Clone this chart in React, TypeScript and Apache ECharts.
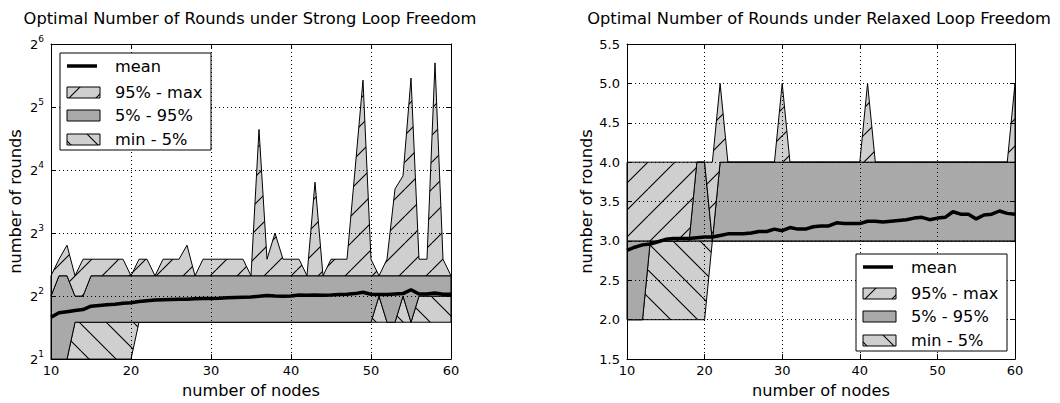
import React, { useEffect, useRef } from "react";
import * as echarts from "echarts";

const nodes = [10, 11, 12, 13, 14, 15, 16, 17, 18, 19, 20, 21, 22, 23, 24, 25, 26, 27, 28, 29, 30, 31, 32, 33, 34, 35, 36, 37, 38, 39, 40, 41, 42, 43, 44, 45, 46, 47, 48, 49, 50, 51, 52, 53, 54, 55, 56, 57, 58, 59, 60];

// Strong loop freedom
const strongMin = [2, 2, 2, 2, 2, 2, 2, 2, 2, 2, 2, 3, 3, 3, 3, 3, 3, 3, 3, 3, 3, 3, 3, 3, 3, 3, 3, 3, 3, 3, 3, 3, 3, 3, 3, 3, 3, 3, 3, 3, 3, 3, 3, 3, 3, 3, 3, 3, 3, 3, 3];
const strongP5 = [2, 2, 2, 3, 3, 3, 3, 3, 3, 3, 3, 3, 3, 3, 3, 3, 3, 3, 3, 3, 3, 3, 3, 3, 3, 3, 3, 3, 3, 3, 3, 3, 3, 3, 3, 3, 3, 3, 3, 3, 3, 4, 3, 3, 4, 3, 4, 4, 4, 4, 4];
const strongP95 = [4, 5, 5, 4, 4, 5, 5, 5, 5, 5, 5, 5, 5, 5, 5, 5, 5, 5, 5, 5, 5, 5, 5, 5, 5, 5, 5, 5, 5, 5, 5, 5, 5, 5, 5, 5, 5, 5, 5, 5, 5, 5, 5, 5, 5, 5, 5, 5, 5, 5, 5];
const strongMax = [5, 6, 7, 5, 6, 6, 6, 6, 6, 6, 5, 6, 6, 5, 6, 6, 6, 7, 5, 6, 6, 6, 6, 6, 6, 5, 25, 6, 8, 6, 6, 6, 5, 14, 5, 6, 6, 6, 16, 43, 6, 5, 6, 13, 15, 44, 6, 6, 52, 6, 5];
const strongMean = [3.17, 3.33, 3.37, 3.41, 3.45, 3.58, 3.61, 3.64, 3.66, 3.7, 3.72, 3.77, 3.8, 3.83, 3.84, 3.85, 3.86, 3.86, 3.88, 3.89, 3.9, 3.91, 3.93, 3.94, 3.95, 3.96, 3.99, 4.03, 4.0, 3.99, 4.0, 4.05, 4.04, 4.05, 4.04, 4.05, 4.07, 4.08, 4.11, 4.17, 4.08, 4.07, 4.07, 4.09, 4.11, 4.29, 4.09, 4.09, 4.14, 4.08, 4.08];

// Relaxed loop freedom
const relaxedMin = [2, 2, 2, 2, 2, 2, 2, 2, 2, 2, 2, 3, 3, 3, 3, 3, 3, 3, 3, 3, 3, 3, 3, 3, 3, 3, 3, 3, 3, 3, 3, 3, 3, 3, 3, 3, 3, 3, 3, 3, 3, 3, 3, 3, 3, 3, 3, 3, 3, 3, 3];
const relaxedP5 = [2, 2, 2, 3, 3, 3, 3, 3, 3, 3, 3, 3, 3, 3, 3, 3, 3, 3, 3, 3, 3, 3, 3, 3, 3, 3, 3, 3, 3, 3, 3, 3, 3, 3, 3, 3, 3, 3, 3, 3, 3, 3, 3, 3, 3, 3, 3, 3, 3, 3, 3];
const relaxedP95 = [3, 3, 3, 3, 3, 3, 3, 3, 3, 4, 4, 3, 4, 4, 4, 4, 4, 4, 4, 4, 4, 4, 4, 4, 4, 4, 4, 4, 4, 4, 4, 4, 4, 4, 4, 4, 4, 4, 4, 4, 4, 4, 4, 4, 4, 4, 4, 4, 4, 4, 4];
const relaxedMax = [4, 4, 4, 4, 4, 4, 4, 4, 4, 4, 4, 4, 5, 4, 4, 4, 4, 4, 4, 4, 5, 4, 4, 4, 4, 4, 4, 4, 4, 4, 4, 5, 4, 4, 4, 4, 4, 4, 4, 4, 4, 4, 4, 4, 4, 4, 4, 4, 4, 4, 5];
const relaxedMean = [2.88, 2.92, 2.95, 2.96, 2.99, 3.02, 3.03, 3.03, 3.03, 3.04, 3.05, 3.05, 3.07, 3.09, 3.09, 3.09, 3.1, 3.12, 3.12, 3.15, 3.13, 3.17, 3.15, 3.15, 3.18, 3.19, 3.19, 3.23, 3.22, 3.22, 3.22, 3.25, 3.25, 3.24, 3.25, 3.26, 3.27, 3.29, 3.3, 3.27, 3.29, 3.3, 3.37, 3.34, 3.34, 3.28, 3.33, 3.34, 3.38, 3.35, 3.34];

const titles = ["Optimal Number of Rounds under Strong Loop Freedom", "Optimal Number of Rounds under Relaxed Loop Freedom"];
const legendLabels = ["mean", "95% - max", "5% - 95%", "min - 5%"];
const xTitle = "number of nodes";
const yTitle = "number of rounds";

const FONT = "DejaVu Sans";
const LIGHT = "#cfcfcf";
const DARK = "#a9a9a9";
const BIG = 16.2;

function makeHatch(bg: string, dir: "/" | "\\", size: number) {
  const c = document.createElement("canvas");
  c.width = size;
  c.height = size;
  const ctx = c.getContext("2d")!;
  ctx.fillStyle = bg;
  ctx.fillRect(0, 0, size, size);
  ctx.strokeStyle = "#000";
  ctx.lineWidth = 1.1;
  ctx.beginPath();
  for (const o of [-size, 0, size]) {
    if (dir === "/") {
      ctx.moveTo(o, size);
      ctx.lineTo(o + size, 0);
    } else {
      ctx.moveTo(o, 0);
      ctx.lineTo(o + size, size);
    }
  }
  ctx.stroke();
  return { image: c, repeat: "repeat", imageWidth: size, imageHeight: size };
}

export default function App() {
  const ref = useRef<HTMLDivElement>(null);
  useEffect(() => {
    document.body.style.margin = "0";
    const chart = echarts.init(ref.current!, null, { renderer: "svg" });
    const slash = makeHatch(LIGHT, "/", 27);
    const back = makeHatch(LIGHT, "\\", 27);

    const tick = { show: true, inside: true, length: 5, lineStyle: { color: "#000", width: 1 } };
    const axisLine = { show: true, onZero: false, lineStyle: { color: "#000", width: 1 } };
    const splitLine = { show: true, lineStyle: { color: "#000", width: 1, type: [1, 3] } };

    const xAxes: any[] = [];
    const yAxes: any[] = [];
    [0, 1].forEach((g) => {
      xAxes.push({
        gridIndex: g, type: "value", min: 10, max: 60, interval: 10, z: 2,
        axisLine, axisTick: tick, splitLine,
        axisLabel: { fontSize: 13, color: "#000", margin: 5, fontFamily: FONT },
        name: xTitle, nameLocation: "middle", nameGap: 22,
        nameTextStyle: { fontSize: BIG, color: "#000", fontFamily: FONT },
      });
      xAxes.push({
        gridIndex: g, type: "value", position: "top", min: 10, max: 60, interval: 10, z: 2,
        axisLine, axisTick: tick, splitLine: { show: false }, axisLabel: { show: false },
      });
    });
    yAxes.push({
      gridIndex: 0, type: "log", logBase: 2, min: 2, max: 64, splitNumber: 5, z: 2,
      axisLine, axisTick: tick, splitLine, minorTick: { show: false },
      axisLabel: {
        margin: 7,
        formatter: (v: number) => `{b|2}{s|${Math.round(Math.log2(v))}}`,
        rich: {
          b: { fontSize: 13, lineHeight: 20, color: "#000", fontFamily: FONT },
          s: { fontSize: 9, lineHeight: 9, verticalAlign: "top", color: "#000", fontFamily: FONT },
        },
      },
      name: yTitle, nameLocation: "middle", nameGap: 28,
      nameTextStyle: { fontSize: BIG, color: "#000", fontFamily: FONT },
    });
    yAxes.push({
      gridIndex: 0, type: "log", logBase: 2, min: 2, max: 64, splitNumber: 5, position: "right", z: 2,
      axisLine, axisTick: tick, splitLine: { show: false }, axisLabel: { show: false },
    });
    yAxes.push({
      gridIndex: 1, type: "value", min: 1.5, max: 5.5, interval: 0.5, z: 2,
      axisLine, axisTick: tick, splitLine,
      axisLabel: { margin: 7, fontSize: 13, color: "#000", fontFamily: FONT, formatter: (v: number) => v.toFixed(1) },
      name: yTitle, nameLocation: "middle", nameGap: 33,
      nameTextStyle: { fontSize: BIG, color: "#000", fontFamily: FONT },
    });
    yAxes.push({
      gridIndex: 1, type: "value", min: 1.5, max: 5.5, interval: 0.5, position: "right", z: 2,
      axisLine, axisTick: tick, splitLine: { show: false }, axisLabel: { show: false },
    });

    const pairs = (arr: number[]) => nodes.map((n, i) => [n, arr[i]]);

    // one filled polygon between a lower and an upper curve, placed through the axes' scales
    const band = (xi: number, yi: number, name: string, lo: number[], hi: number[], fill: any) => ({
      type: "custom", name, xAxisIndex: xi, yAxisIndex: yi, z: 1, silent: true,
      data: nodes.map((n, i) => [n, lo[i], hi[i]]),
      encode: { x: 0, y: [1, 2] },
      renderItem: (params: any, api: any) => {
        if (params.dataIndex !== 0) return null;
        const pts: number[][] = [];
        nodes.forEach((n, i) => pts.push(api.coord([n, hi[i]])));
        for (let i = nodes.length - 1; i >= 0; i--) pts.push(api.coord([nodes[i], lo[i]]));
        return { type: "polygon", shape: { points: pts }, style: { fill, stroke: "#000", lineWidth: 1 } };
      },
    });

    const chartSeries = (xi: number, yi: number, mn: number[], p5: number[], p95: number[], mx: number[], mean: number[]) => [
      band(xi, yi, legendLabels[3], mn, p5, back),
      band(xi, yi, legendLabels[2], p5, p95, DARK),
      band(xi, yi, legendLabels[1], p95, mx, slash),
      {
        type: "line", name: legendLabels[0], xAxisIndex: xi, yAxisIndex: yi, z: 4, symbol: "none", silent: true,
        data: pairs(mean), lineStyle: { color: "#000", width: 3.5 },
      },
    ];

    const legendGroup = (x: number, y: number) => ({
      type: "group", x, y, z: 100,
      children: [
        { type: "rect", z: 100, shape: { x: 0, y: 0, width: 151, height: 97 }, style: { fill: "#fff", stroke: "#000", lineWidth: 1 } },
        { type: "line", z: 101, shape: { x1: 7, y1: 13, x2: 37, y2: 13 }, style: { stroke: "#000", lineWidth: 3.5 } },
        { type: "rect", z: 101, shape: { x: 7, y: 34, width: 33, height: 11 }, style: { fill: slash, stroke: "#000", lineWidth: 1 } },
        { type: "rect", z: 101, shape: { x: 7, y: 57, width: 33, height: 11 }, style: { fill: DARK, stroke: "#000", lineWidth: 1 } },
        { type: "rect", z: 101, shape: { x: 7, y: 81, width: 33, height: 11 }, style: { fill: back, stroke: "#000", lineWidth: 1 } },
        ...legendLabels.map((t, i) => ({
          type: "text", z: 101, x: 55, y: [13, 39.5, 62.5, 86.5][i],
          style: { text: t, fontSize: BIG, fontFamily: FONT, fill: "#000", verticalAlign: "middle", align: "left" },
        })),
      ],
    });

    const option: any = {
      animation: false,
      textStyle: { fontFamily: FONT },
      title: [
        { text: titles[0], left: 245, top: 5, textAlign: "center", textStyle: { fontSize: 16.3, fontWeight: "normal", color: "#000", fontFamily: FONT } },
        { text: titles[1], left: 814, top: 5, textAlign: "center", textStyle: { fontSize: 16.3, fontWeight: "normal", color: "#000", fontFamily: FONT } },
      ],
      grid: [
        { left: 51, top: 44, width: 400, height: 316, show: false },
        { left: 627, top: 44, width: 388, height: 316, show: false },
      ],
      xAxis: xAxes,
      yAxis: yAxes,
      series: [
        ...chartSeries(0, 0, strongMin, strongP5, strongP95, strongMax, strongMean),
        ...chartSeries(2, 2, relaxedMin, relaxedP5, relaxedP95, relaxedMax, relaxedMean),
      ],
      graphic: [legendGroup(60, 53), legendGroup(856, 254)],
    };
    chart.setOption(option);
    return () => chart.dispose();
  }, []);
  return <div ref={ref} style={{ width: 1060, height: 403 }} />;
}
